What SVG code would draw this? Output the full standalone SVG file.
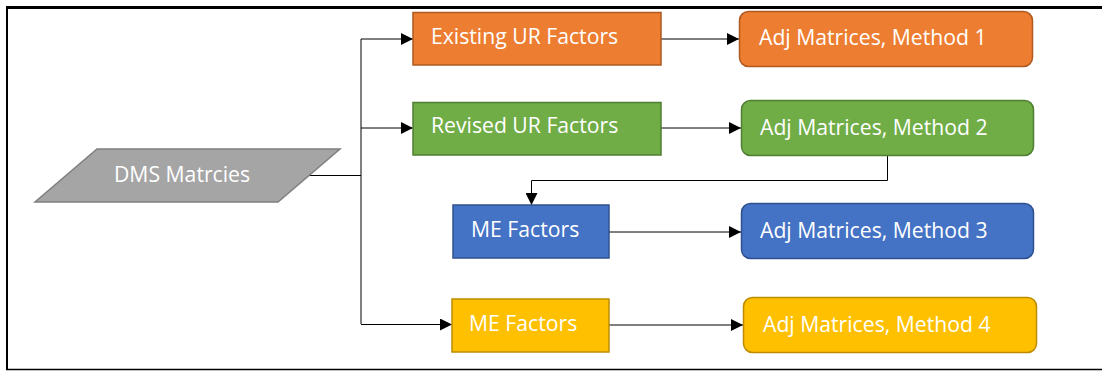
<svg xmlns="http://www.w3.org/2000/svg" width="1102" height="371" viewBox="0 0 1102 371">
<defs>
<marker id="arr" viewBox="0 0 12 12" refX="12" refY="6" markerWidth="12" markerHeight="12" markerUnits="userSpaceOnUse" orient="auto">
<path d="M0,0 L12,6 L0,12 z" fill="#000"/>
</marker>
<style>
.t{font-family:"Open Sans","Liberation Sans",sans-serif;font-size:21.2px;fill:#fff}
.c{fill:none;stroke:#000;stroke-width:1}
.ca{fill:none;stroke:#000;stroke-width:1;marker-end:url(#arr)}
</style>
</defs>
<rect x="0" y="0" width="1102" height="371" fill="#fff"/>
<g id="frame" fill="none" stroke="#000">
<line x1="6" y1="7.5" x2="1102" y2="7.5" stroke-width="3"/>
<line x1="7" y1="6" x2="7" y2="370" stroke-width="2"/>
<line x1="6" y1="369.5" x2="1102" y2="369.5" stroke-width="1.5"/>
</g>
<g id="connectors">
<polyline class="c" points="308,175.5 361,175.5"/>
<polyline class="c" points="361,39 361,324"/>
<polyline class="ca" points="361,39 413,39"/>
<polyline class="ca" points="361,128 413,128"/>
<polyline class="ca" points="361,324.5 452,324.5"/>
<polyline class="ca" points="661,39 739,39"/>
<polyline class="ca" points="661,128 741,128"/>
<polyline class="ca" points="887.5,156 887.5,180.5 531.5,180.5 531.5,205"/>
<polyline class="ca" points="609,232 741,232"/>
<polyline class="ca" points="609,325 743,325"/>
</g>
<g id="dms">
<polygon points="97,149 340,149 278,202 35,202" fill="#a5a5a5" stroke="#7f7f7f" stroke-width="1.5"/>
<text class="t" x="114" y="182">DMS Matrcies</text>
</g>
<g id="existing">
<rect x="413" y="12.5" width="248" height="52.5" fill="#ed7d31" stroke="#ae5a21" stroke-width="1.5"/>
<text class="t" x="431" y="44">Existing UR Factors</text>
</g>
<g id="revised">
<rect x="413" y="102.5" width="248" height="52.5" fill="#70ad47" stroke="#507e32" stroke-width="1.5"/>
<text class="t" x="431" y="133">Revised UR Factors</text>
</g>
<g id="me1">
<rect x="453" y="205" width="156" height="53" fill="#4472c4" stroke="#2f528f" stroke-width="1.5"/>
<text class="t" x="471" y="237">ME Factors</text>
</g>
<g id="me2">
<rect x="452" y="299" width="157" height="53" fill="#ffc000" stroke="#bc8c00" stroke-width="1.5"/>
<text class="t" x="469" y="331">ME Factors</text>
</g>
<g id="adj1">
<rect x="739.5" y="11.5" width="293" height="55" rx="9" fill="#ed7d31" stroke="#ae5a21" stroke-width="1.5"/>
<text class="t" x="759" y="45">Adj Matrices, Method 1</text>
</g>
<g id="adj2">
<rect x="741.5" y="100.5" width="292" height="55" rx="9" fill="#70ad47" stroke="#507e32" stroke-width="1.5"/>
<text class="t" x="760" y="135">Adj Matrices, Method 2</text>
</g>
<g id="adj3">
<rect x="741.5" y="203.5" width="292" height="55" rx="9" fill="#4472c4" stroke="#2f528f" stroke-width="1.5"/>
<text class="t" x="760" y="238">Adj Matrices, Method 3</text>
</g>
<g id="adj4">
<rect x="743.5" y="297.5" width="293" height="55" rx="9" fill="#ffc000" stroke="#bc8c00" stroke-width="1.5"/>
<text class="t" x="763" y="332">Adj Matrices, Method 4</text>
</g>
</svg>
